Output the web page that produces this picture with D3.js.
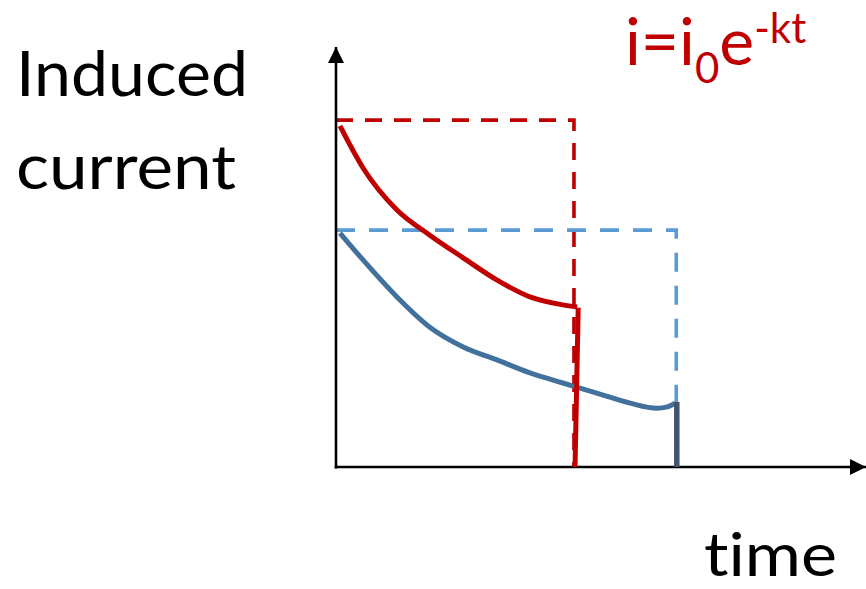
<!DOCTYPE html>
<html><head><meta charset="utf-8">
<script src="https://cdn.jsdelivr.net/npm/d3@7"></script>
<style>html,body{margin:0;padding:0;background:#fff;overflow:hidden} text{font-variant-ligatures:none;font-feature-settings:"liga" 0}</style>
</head><body>
<script>
// data (arbitrary units)
const redTime    = [0.075, 0.51, 1.15, 1.77, 2.40, 3.04, 3.66, 4.28, 4.55];
const redCurrent = [8.12, 7.12, 6.12, 5.52, 4.98, 4.45, 4.05, 3.86, 3.81];
const redDropX   = [4.57, 4.51];
const redDropY   = [3.79, 0];
const redLimit   = {t: 4.49, i: 8.26};

const blueTime    = [0.075, 0.51, 1.15, 1.77, 2.40, 3.04, 3.66, 4.28, 4.92, 5.55, 6.06, 6.25, 6.40];
const blueCurrent = [5.57, 4.93, 4.05, 3.33, 2.86, 2.55, 2.24, 2.0, 1.76, 1.52, 1.40, 1.43, 1.52];
const blueDropX   = [6.43, 6.43];
const blueDropY   = [1.55, 0];
const blueLimit   = {t: 6.42, i: 5.64};

const yLabel = ["Induced", "current"];
const xLabel = "time";

const W = 866, H = 589;
const svg = d3.select("body").append("svg").attr("width", W).attr("height", H);
const x = d3.scaleLinear().domain([0, 10]).range([336, 866]);
const y = d3.scaleLinear().domain([0, 10]).range([467, 47]);

const RED = "#c00000", BLUE_D = "#5b9bd5", BLUE = "#41719c", SLATE = "#44546a";
const font = "Lato, 'Open Sans', sans-serif";

// dashed limit boxes
function box(lim, color, dash) {
  svg.append("path")
    .attr("d", d3.line()([[x(0), y(lim.i)], [x(lim.t), y(lim.i)], [x(lim.t), y(0)]]))
    .attr("fill", "none").attr("stroke", color).attr("stroke-width", 3.6)
    .attr("stroke-dasharray", dash);
}
box(redLimit, RED, "17,12");
box(blueLimit, BLUE_D, "19,14");

// axes with arrows
const defs = svg.append("defs");
defs.append("marker").attr("id", "arr").attr("viewBox", "0 0 10 10")
  .attr("refX", 10).attr("refY", 5).attr("markerWidth", 16).attr("markerHeight", 16)
  .attr("markerUnits", "userSpaceOnUse").attr("orient", "auto")
  .append("path").attr("d", "M0,0 L10,5 L0,10 Z").attr("fill", "#000");
svg.append("line").attr("x1", x(0)).attr("y1", y(0) + 1.5).attr("x2", x(0)).attr("y2", y(10))
  .attr("stroke", "#000").attr("stroke-width", 2.6).attr("marker-end", "url(#arr)");
svg.append("line").attr("x1", x(0) - 1.3).attr("y1", y(0)).attr("x2", x(10)).attr("y2", y(0))
  .attr("stroke", "#000").attr("stroke-width", 2.6).attr("marker-end", "url(#arr)");

// curves
const line = d3.line().x(d => x(d[0])).y(d => y(d[1])).curve(d3.curveMonotoneX);
svg.append("path").attr("d", line(d3.zip(blueTime, blueCurrent)))
  .attr("fill", "none").attr("stroke", BLUE).attr("stroke-width", 5);
svg.append("path").attr("d", d3.line()(d3.zip(blueDropX.map(x), blueDropY.map(y))))
  .attr("fill", "none").attr("stroke", SLATE).attr("stroke-width", 5.5);
svg.append("path").attr("d", line(d3.zip(redTime, redCurrent)))
  .attr("fill", "none").attr("stroke", RED).attr("stroke-width", 5);
svg.append("path").attr("d", d3.line()(d3.zip(redDropX.map(x), redDropY.map(y))))
  .attr("fill", "none").attr("stroke", RED).attr("stroke-width", 5);

// labels
function label(t, px, py, len, fs) {
  svg.append("text").attr("x", px).attr("y", py).text(t)
    .attr("font-family", font).attr("font-size", fs).attr("fill", "#000")
    .attr("textLength", len).attr("lengthAdjust", "spacingAndGlyphs");
}
label(yLabel[0], 16, 96, 232, 62);
label(yLabel[1], 16, 189, 220, 62);
label(xLabel, 704, 576, 133, 60);

// formula
const f = svg.append("text").attr("x", 625).attr("y", 65)
  .attr("font-family", font).attr("font-size", 66).attr("fill", RED);
f.append("tspan").text("i=i");
f.append("tspan").attr("dy", 18).attr("font-size", 42).text("0");
f.append("tspan").attr("dy", -18).text("e");
f.append("tspan").attr("dy", -22).attr("font-size", 42).text("-kt");
</script>
</body></html>
